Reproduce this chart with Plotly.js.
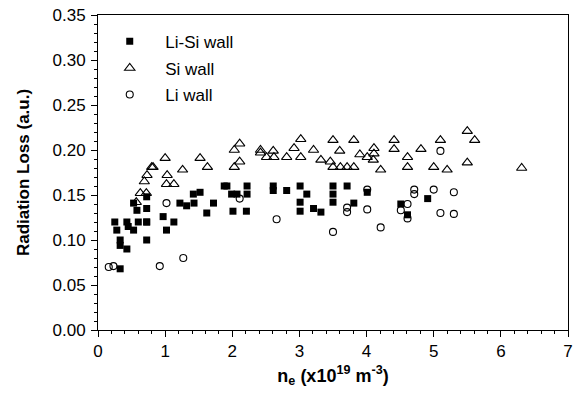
<!DOCTYPE html>
<html><head><meta charset="utf-8">
<script src="https://cdn.plot.ly/plotly-3.0.1.min.js"></script>
<style>html,body{margin:0;padding:0;background:#fff}#chart{width:578px;height:398px}</style>
</head><body><div id="chart"></div>
<script>
// Li-Si wall (filled squares)
const liSiX = [0.25,0.28,0.33,0.33,0.33,0.43,0.43,0.45,0.53,0.53,0.58,0.60,0.725,0.725,0.725,0.725,0.725,
  0.97,1.02,1.13,1.22,1.32,1.43,1.42,1.52,1.62,1.72,1.88,1.92,1.99,2.07,2.22,2.22,2.01,2.21,
  2.61,2.61,2.81,3.01,3.11,3.01,3.01,3.21,3.32,3.50,3.50,3.50,3.71,3.81,4.01,4.51,4.61,4.91];
const liSiY = [0.120,0.111,0.100,0.094,0.068,0.120,0.090,0.115,0.141,0.111,0.133,0.120,0.148,0.135,0.120,0.100,0.120,
  0.126,0.111,0.120,0.141,0.138,0.141,0.151,0.153,0.130,0.141,0.160,0.160,0.151,0.151,0.160,0.151,0.132,0.132,
  0.160,0.155,0.155,0.160,0.151,0.142,0.132,0.135,0.131,0.160,0.151,0.142,0.160,0.141,0.153,0.140,0.128,0.146];
// Si wall (open triangles)
const siX = [0.57,0.63,0.69,0.72,0.73,0.80,0.82,1.00,1.02,1.03,1.13,1.26,1.52,1.63,
  2.03,2.11,2.03,2.11,2.42,2.42,2.51,2.61,2.62,2.81,2.92,3.02,3.02,3.21,3.32,3.46,3.50,3.50,3.60,3.61,
  3.71,3.81,3.81,3.90,4.01,4.10,4.11,4.11,4.21,4.41,4.41,4.61,4.61,4.81,5.00,5.10,5.20,5.50,5.50,5.61,6.31];
const siY = [0.142,0.152,0.165,0.152,0.172,0.181,0.181,0.191,0.162,0.172,0.162,0.178,0.191,0.181,
  0.200,0.207,0.181,0.187,0.200,0.197,0.192,0.199,0.192,0.192,0.202,0.212,0.192,0.200,0.189,0.187,0.211,0.181,0.199,0.181,
  0.181,0.211,0.181,0.195,0.192,0.189,0.202,0.196,0.178,0.211,0.201,0.192,0.181,0.201,0.181,0.211,0.178,0.221,0.186,0.211,0.180];
// Li wall (open circles)
const liX = [0.16,0.23,0.92,1.02,1.27,2.11,2.66,3.50,3.71,3.71,4.01,4.01,4.21,4.51,4.61,4.61,4.71,4.71,5.00,5.10,5.10,5.30,5.30];
const liY = [0.070,0.071,0.071,0.141,0.080,0.146,0.123,0.109,0.136,0.131,0.156,0.134,0.114,0.133,0.140,0.124,0.156,0.151,0.156,0.199,0.130,0.153,0.129];

const xTicks = [0,1,2,3,4,5,6,7];

const traces = [
  {x: liSiX, y: liSiY, name: 'Li-Si wall', legendgroup: 'a', type: 'scatter', mode: 'markers',
   marker: {symbol: 'square', size: 7, color: '#000'}},
  {x: siX, y: siY, name: 'Si wall', legendgroup: 'b', type: 'scatter', mode: 'markers',
   marker: {symbol: 'triangle-up-open', size: 9, color: '#000', line: {width: 1.1}}},
  {x: liX, y: liY, name: 'Li wall', legendgroup: 'c', type: 'scatter', mode: 'markers',
   marker: {symbol: 'circle-open', size: 7, color: '#000', line: {width: 1.1}}}
];

const FAM = 'Liberation Sans, Arial, sans-serif';
const axFont = {family: FAM, size: 17, color: '#000'};
const layout = {
  width: 578, height: 398,
  margin: {l: 98, r: 10, t: 15, b: 68},
  paper_bgcolor: '#fff', plot_bgcolor: '#fff',
  font: axFont,
  showlegend: true,
  legend: {x: -0.008, y: 0.972, xanchor: 'left', yanchor: 'top', bgcolor: 'rgba(0,0,0,0)',
    traceorder: 'grouped', tracegroupgap: 1.5, font: {family: FAM, size: 17, color: '#000'},
    itemwidth: 61},
  xaxis: {range: [0, 7], tickvals: xTicks, ticktext: xTicks.map(String),
    showgrid: false, zeroline: false, showline: true, linecolor: '#000', linewidth: 1, mirror: true,
    ticks: 'outside', ticklen: 6, tickcolor: '#000', tickfont: axFont,
    minor: {dtick: 0.2, ticks: 'outside', ticklen: 3, tickcolor: '#000', showgrid: false},
    title: {text: '<b>n<sub>e</sub> (x10<sup>19</sup> m<sup>-3</sup>)</b>', font: {family: FAM, size: 18}, standoff: 8}},
  yaxis: {range: [0, 0.35], dtick: 0.05, tickformat: '.2f',
    showgrid: false, zeroline: false, showline: true, linecolor: '#000', linewidth: 1, mirror: true,
    ticks: 'outside', ticklen: 6, tickcolor: '#000', tickfont: axFont, ticklabelstandoff: 2,
    minor: {dtick: 0.01, ticks: 'outside', ticklen: 3, tickcolor: '#000', showgrid: false},
    title: {text: '<b>Radiation Loss (a.u.)</b>', font: {family: FAM, size: 17}, standoff: 18}}
};
Plotly.newPlot('chart', traces, layout, {displayModeBar: false, staticPlot: true});
</script></body></html>
